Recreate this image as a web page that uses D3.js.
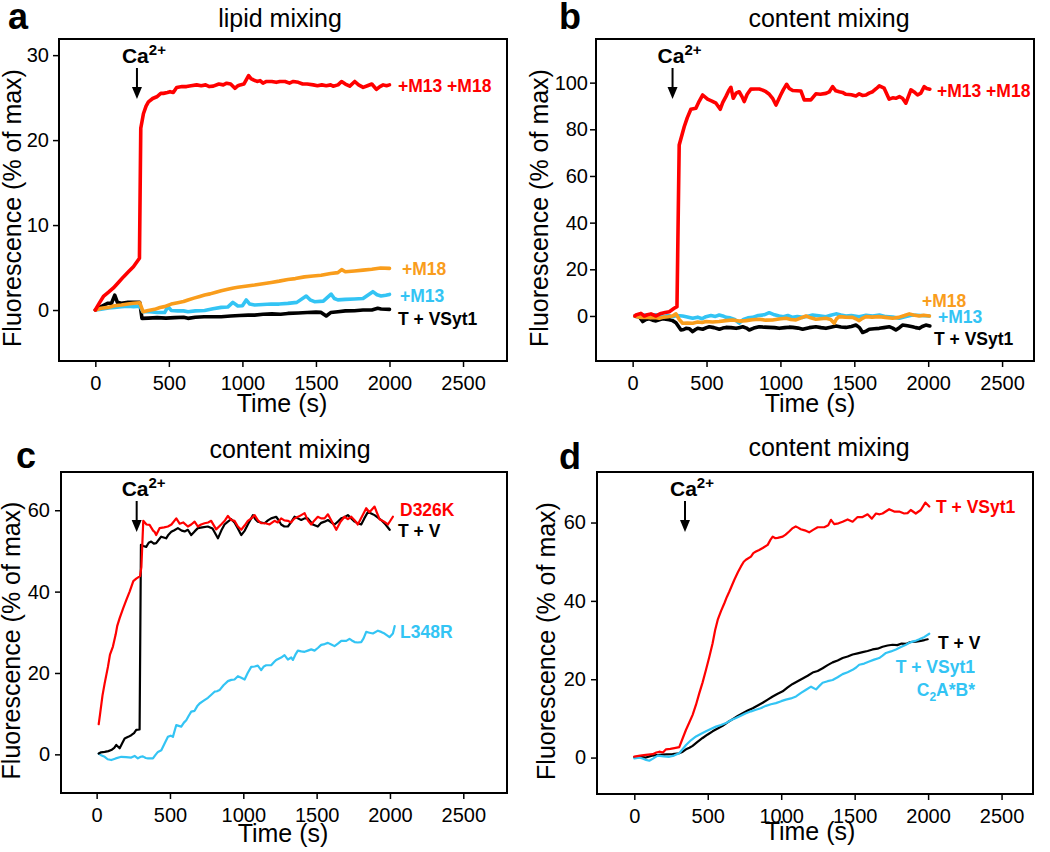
<!DOCTYPE html>
<html><head><meta charset="utf-8">
<script src="https://cdn.jsdelivr.net/npm/d3@7"></script>
<style>body{margin:0;background:#fff;} svg{display:block;font-family:'Liberation Sans',Arial,Helvetica,sans-serif;}</style>
</head><body><svg id="chart" width="1050" height="852"></svg>
<script>
// ---------- DATA ([time (s), fluorescence (% of max)]) ----------
const xTicks = [0, 500, 1000, 1500, 2000, 2500];
const yTicksA = [0, 10, 20, 30];
const yTicksB = [0, 20, 40, 60, 80, 100];
const yTicksC = [0, 20, 40, 60];
const yTicksD = [0, 20, 40, 60];
const panelLetters = ["a", "b", "c", "d"];
const panelTitles = ["lipid mixing", "content mixing", "content mixing", "content mixing"];
const caTimes = [283, 270, 273, 345];

// Panel a: lipid mixing
const aRed = [[0,0],[30,0.9],[55,1.6],[90,2.1],[123,2.6],[160,3.3],[191,3.9],[225,4.5],[259,5.1],[300,6.1],[309,21.4],[327,23.1],[345,24.0],[361,24.5],[390,24.9],[418,25.1],[445,25.5],[463,25.5],[490,25.6],[508,25.7],[530,25.6],[553,26.2],[590,26.3],[620,26.3],[650,26.4],[689,26.5],[720,26.4],[750,26.5],[775,26.3],[802,26.35],[840,26.6],[870,26.5],[893,26.7],[920,26.6],[949,26.1],[970,26.4],[985,26.5],[1010,26.6],[1042,27.6],[1060,27.2],[1074,27.1],[1100,26.9],[1120,27.0],[1140,26.7],[1164,26.9],[1200,26.9],[1230,26.8],[1255,26.9],[1290,26.9],[1320,26.7],[1346,26.9],[1380,26.8],[1410,26.6],[1440,26.6],[1482,26.5],[1510,26.4],[1540,26.5],[1570,26.4],[1600,26.5],[1617,26.35],[1650,26.5],[1674,26.9],[1700,26.6],[1730,26.35],[1764,26.9],[1790,26.5],[1821,26.2],[1850,26.4],[1880,26.6],[1911,25.96],[1935,26.3],[1957,26.5],[1980,26.4],[2000,26.5]];
const aOrange = [[0,0],[40,0.2],[86,0.31],[130,0.5],[177,0.59],[220,0.7],[260,0.8],[302,0.86],[324,-0.2],[360,-0.05],[403,0.08],[440,0.3],[470,0.4],[516,0.7],[560,0.85],[600,1.0],[630,1.18],[670,1.4],[710,1.6],[743,1.76],[780,1.9],[820,2.1],[856,2.27],[900,2.45],[940,2.6],[969,2.67],[1020,2.8],[1083,2.94],[1140,3.1],[1196,3.25],[1250,3.4],[1309,3.6],[1360,3.7],[1422,3.9],[1480,4.0],[1535,4.1],[1600,4.3],[1649,4.4],[1675,4.75],[1700,4.5],[1762,4.6],[1820,4.7],[1880,4.8],[1940,4.95],[2000,4.9]];
const aCyan = [[0,0],[40,0.1],[90,0.25],[130,0.3],[177,0.39],[220,0.45],[260,0.4],[302,0.45],[324,-0.2],[370,-0.2],[420,-0.3],[471,-0.3],[494,0.4],[516,-0.05],[560,-0.1],[600,-0.1],[630,-0.2],[680,-0.1],[743,-0.05],[800,0.15],[856,0.31],[900,0.35],[935,0.9],[969,0.47],[1000,0.5],[1026,1.18],[1050,0.7],[1083,0.6],[1140,0.65],[1196,0.7],[1250,0.7],[1309,0.78],[1370,0.9],[1434,1.65],[1460,1.2],[1490,0.98],[1550,1.05],[1603,1.88],[1625,1.35],[1649,1.2],[1700,1.25],[1762,1.3],[1820,1.35],[1887,2.16],[1915,1.8],[1943,1.65],[1975,1.75],[2000,1.84]];
const aBlack = [[0,0],[40,0.4],[86,0.8],[110,0.8],[132,1.76],[150,0.9],[177,0.8],[222,0.9],[260,0.9],[302,0.9],[317,-0.98],[360,-0.95],[420,-0.9],[480,-0.95],[540,-0.9],[600,-0.85],[630,-0.98],[680,-0.85],[740,-0.8],[800,-0.8],[856,-0.79],[920,-0.7],[980,-0.65],[1040,-0.6],[1083,-0.6],[1140,-0.5],[1200,-0.45],[1260,-0.5],[1309,-0.4],[1380,-0.35],[1440,-0.3],[1500,-0.25],[1535,-0.28],[1570,-0.7],[1600,-0.3],[1650,-0.2],[1700,-0.1],[1762,-0.08],[1820,0.0],[1880,0.0],[1920,0.2],[1943,0.12],[1975,0.1],[2000,0.08]];

// Panel b: content mixing
const bRed = [[16,0],[22,0.4],[56,1.1],[79,0],[100,0.5],[124,0.9],[158,0],[192,1.1],[220,1.5],[248,1.85],[281,3.3],[300,4.0],[315,73.3],[349,81.1],[370,85],[394,88.6],[428,89],[450,92],[474,94.7],[507,92.9],[540,92.0],[564,91.2],[593,88.6],[610,91.5],[631,94],[650,96.5],[665,98],[681,93.3],[700,95.5],[721,96.1],[740,94],[755,91.9],[775,95],[800,97.2],[830,97.3],[857,97.3],[880,96.8],[902,96.1],[925,95],[947,93.3],[970,90.4],[1000,94.5],[1020,97],[1042,99.3],[1060,97.5],[1083,96.6],[1110,96.5],[1139,96.4],[1161,92.6],[1185,92.6],[1206,92.6],[1240,95.2],[1270,95],[1308,95.4],[1330,96],[1353,98.3],[1375,96.5],[1398,96.1],[1420,95.8],[1443,95],[1480,94.8],[1511,94.3],[1533,95.2],[1555,94.5],[1579,94.7],[1600,95.5],[1624,96.1],[1650,97.5],[1669,98.6],[1702,97.6],[1736,92.9],[1760,93.5],[1781,93.3],[1805,94],[1826,93.3],[1849,91.2],[1883,96.9],[1905,96],[1928,94.7],[1950,95.5],[1973,98.3],[1990,97.5],[2011,97.2]];
const bBlack = [[16,0],[25,-0.2],[45,-0.3],[68,-2.4],[90,-1.5],[113,-1.2],[135,-1.8],[158,-2.1],[180,-1.6],[203,-1.2],[225,-1.4],[248,-1.6],[270,-2.0],[293,-2.9],[327,-6],[345,-5.8],[361,-5.3],[385,-5.5],[406,-6.7],[425,-5.8],[440,-5.3],[474,-5.7],[500,-5.0],[519,-4.6],[550,-5.0],[587,-5.7],[610,-5.2],[632,-4.9],[665,-5.0],[700,-5.3],[720,-5.0],[745,-4.6],[770,-5.2],[789,-6],[820,-5.2],[857,-4.6],[890,-4.8],[925,-4.9],[960,-5.0],[992,-5.3],[1030,-5.0],[1060,-4.8],[1083,-4.9],[1120,-5.2],[1150,-5.7],[1195,-5.0],[1240,-4.6],[1275,-5.0],[1308,-5.3],[1340,-4.8],[1376,-4.3],[1410,-4.7],[1443,-4.9],[1480,-4.5],[1511,-3.9],[1535,-5.0],[1556,-7.1],[1580,-6.5],[1601,-5.7],[1635,-5.5],[1669,-5.3],[1700,-5.0],[1736,-4.6],[1760,-5.2],[1781,-6],[1805,-5.0],[1826,-3.9],[1860,-4.2],[1894,-4.6],[1915,-5.0],[1939,-5.3],[1960,-4.5],[1984,-3.9],[2011,-4.3]];
const bCyan = [[16,0],[30,0.3],[60,0.4],[90,0.43],[120,-0.5],[150,0.5],[180,0.4],[210,-0.2],[240,0.2],[270,-0.3],[300,0.2],[338,0],[370,-0.4],[406,-1.0],[440,-0.5],[470,-1.2],[496,-0.3],[530,0.2],[560,-0.2],[586,0.4],[610,0.0],[632,-0.6],[660,-0.8],[690,-1.5],[721,-3.1],[750,-1.5],[780,-0.8],[811,-0.6],[850,0.2],[890,0.5],[924,1.4],[960,0.5],[992,0],[1020,-0.3],[1050,0.2],[1083,-0.6],[1115,-0.2],[1150,-0.6],[1185,-0.1],[1218,0.4],[1260,0.1],[1308,-0.3],[1340,0.3],[1376,0.9],[1410,0.4],[1443,0],[1480,0.2],[1533,-0.3],[1580,0.3],[1624,0],[1670,0.4],[1714,-0.3],[1760,-0.5],[1804,-1.0],[1850,-0.2],[1894,0.4],[1950,0.2],[2008,0]];
const bOrange = [[16,0],[30,-0.3],[60,-0.6],[90,-0.5],[120,-0.8],[150,-0.6],[180,-1.0],[210,-0.5],[240,-0.3],[270,0],[293,0.9],[315,-1.5],[338,-3.1],[370,-3.0],[406,-3.1],[440,-2.6],[470,-2.8],[496,-2.4],[540,-2.6],[586,-2.4],[630,-2.0],[677,-1.7],[720,-2.2],[767,-2.0],[810,-1.6],[857,-1.4],[900,-1.8],[947,-1.7],[990,-1.3],[1038,-1.0],[1070,-1.5],[1105,-1.7],[1140,-0.8],[1173,0],[1205,-0.8],[1240,-1.4],[1275,-1.2],[1308,-1.0],[1340,-1.5],[1364,-3.1],[1380,-1.2],[1398,-0.3],[1440,-0.5],[1489,-0.6],[1510,-1.2],[1533,-2.0],[1555,-1.0],[1579,-0.3],[1620,-0.5],[1669,-0.3],[1710,-0.6],[1759,-1.0],[1800,-0.6],[1840,0.2],[1872,0.9],[1900,0.4],[1939,0],[1970,0.3],[2008,0]];

// Panel c: content mixing
const cRed = [[14,7.4],[22,9.5],[40,14.5],[55,17.5],[77,21.5],[91,24.5],[111,26.5],[130,29.5],[140,31.5],[157,33.5],[180,35.8],[202,37.9],[225,40],[250,42.6],[270,43.2],[296,43.8],[305,46],[318,57.4],[340,56.5],[361,56.4],[385,55.0],[395,54.7],[406,53.9],[429,55.6],[460,55.8],[486,56],[510,56.5],[543,58],[566,56.7],[590,57],[622,56],[645,56.5],[668,57.2],[690,56],[712,56.5],[736,56.8],[760,57.0],[781,57.4],[815,55.3],[849,56.5],[875,57.5],[895,58.6],[918,57.6],[940,57.4],[963,56.0],[986,55.2],[1010,56.3],[1031,57.4],[1055,58],[1077,58.8],[1100,57.5],[1122,56.8],[1150,56.8],[1179,56.5],[1213,57.4],[1235,57.0],[1258,58],[1280,57.5],[1304,57.4],[1325,57.0],[1349,58],[1380,58.5],[1418,59.3],[1440,57.5],[1463,56.5],[1485,57.5],[1508,58.4],[1530,58.0],[1554,58],[1577,59],[1600,57.5],[1634,55.2],[1660,57.0],[1690,58.4],[1713,57.8],[1736,58.4],[1760,57.5],[1781,56.5],[1810,58.5],[1838,60.5],[1860,59.5],[1895,60.9],[1910,59.5],[1929,57.8],[1960,57.2],[1986,56.5],[2020,58.4]];
const cBlack = [[14,0.2],[30,0.5],[55,0.6],[80,0.8],[100,1.05],[120,1.6],[134,2.3],[157,1.5],[175,2.8],[191,3.9],[215,4.3],[236,4.7],[255,5.2],[270,6.0],[293,6.1],[302,51.5],[318,51.2],[338,51],[355,52.0],[372,52.3],[390,51.8],[406,51.9],[425,52.8],[440,53.5],[474,53.1],[490,54.0],[509,54.7],[530,55.1],[554,55.6],[580,55.0],[600,54.8],[622,55.2],[645,53.9],[668,54.8],[690,55.6],[720,55.8],[758,56],[790,55.5],[827,53.1],[850,55.0],[872,56.5],[895,57.2],[918,57.8],[940,57],[963,55.5],[986,53.9],[1010,55.0],[1031,56.5],[1066,58.8],[1082,57.8],[1099,57.2],[1122,57.0],[1145,56.8],[1168,57.5],[1190,58],[1224,58.4],[1240,57.6],[1258,56.5],[1280,56.0],[1304,56],[1325,57.0],[1349,58.4],[1372,58.0],[1395,57.6],[1418,58.0],[1440,58],[1474,56.5],[1508,56],[1531,56.9],[1554,57.2],[1577,57.6],[1600,57.0],[1622,56.5],[1645,57.2],[1668,58],[1690,58.3],[1713,58.8],[1736,58.0],[1759,57.2],[1781,56.8],[1804,56.5],[1825,58.0],[1850,59.6],[1872,59.2],[1895,58.8],[1918,58.2],[1940,57.6],[1970,56.5],[1998,55.2]];
const cCyan = [[14,0.2],[30,-0.2],[55,-0.6],[75,-1.2],[100,-1.4],[130,-1.0],[168,-0.6],[200,-0.7],[236,-0.8],[259,-0.4],[281,-1.0],[300,-0.6],[315,-0.5],[335,-0.9],[350,-1.0],[384,-1.0],[400,-0.2],[418,0.6],[441,1.0],[465,2.8],[486,4.3],[505,4.6],[520,4.3],[543,7.2],[560,7.0],[577,6.8],[595,7.8],[611,8.4],[628,9.5],[645,10.5],[668,10.7],[685,11.8],[702,12.5],[730,13.2],[759,13.9],[780,14.6],[804,15.4],[820,15.5],[838,15.8],[865,17.0],[895,18],[918,18.3],[940,18.4],[963,19.2],[986,18.8],[1009,18.4],[1030,20.0],[1054,21.5],[1077,21.6],[1099,21.8],[1122,20.7],[1140,21.6],[1156,21.9],[1190,21.9],[1210,22.7],[1224,23.2],[1258,23.8],[1281,24.4],[1304,23.3],[1327,23.8],[1338,23.2],[1355,24.5],[1372,25.5],[1395,25.3],[1418,25.2],[1440,25.5],[1463,25.8],[1486,25.5],[1510,26.2],[1531,26.9],[1555,27.1],[1577,27.4],[1600,27.0],[1622,26.6],[1645,27.2],[1668,27.9],[1702,27.9],[1724,28.4],[1740,28.0],[1759,27.6],[1780,27.5],[1804,27.6],[1820,28.5],[1838,30.1],[1860,29.9],[1884,29.7],[1918,30.4],[1940,30.1],[1963,29.7],[1997,28.8],[2020,29.7],[2032,31.5]];

// Panel d: content mixing
const dRed = [[0,0.26],[40,0.5],[79,0.7],[125,0.87],[150,1.3],[170,1.5],[195,1.3],[216,2.1],[245,2.2],[273,2.4],[306,2.65],[330,5.0],[352,7.1],[375,9.0],[397,10.9],[420,13.5],[442,16.4],[465,19.2],[488,22.4],[510,25.6],[533,29.2],[550,32.5],[568,35.2],[590,37.4],[613,39.4],[630,41.0],[647,42.4],[665,44.0],[681,45.4],[705,47.3],[726,48.8],[745,50.0],[760,50.5],[794,51.3],[810,52.2],[828,52.6],[850,53.0],[874,53.5],[908,54.3],[925,55.5],[942,56.4],[960,56.0],[976,56.1],[1010,56.4],[1030,56.9],[1054,57.7],[1075,58.5],[1099,59],[1115,58.7],[1133,58.3],[1160,58.0],[1190,57.5],[1220,58.2],[1248,58.8],[1270,58.8],[1293,58.8],[1320,59.3],[1339,60.7],[1361,59.6],[1390,59.8],[1418,60.2],[1452,60.8],[1486,60.2],[1520,61.4],[1554,61.4],[1588,62.1],[1617,61.0],[1645,62.3],[1670,62.1],[1690,62.3],[1735,63.4],[1769,62.8],[1803,62.8],[1837,62.3],[1860,62.4],[1882,63.2],[1916,62.3],[1950,63.2],[1981,65.1],[2008,64.1]];
const dBlack = [[0,0.1],[40,0.2],[79,0],[120,0.5],[170,0.7],[220,0.8],[260,0.9],[306,1.1],[330,1.5],[352,2.1],[375,2.5],[397,3],[430,4.0],[465,5],[500,5.9],[533,6.7],[567,7.4],[601,8.1],[635,9.0],[670,9.8],[704,10.6],[738,11.3],[772,12.0],[806,12.6],[840,13.3],[874,14],[908,14.8],[942,15.6],[976,16.3],[1010,16.9],[1044,17.9],[1078,18.8],[1112,19.5],[1146,20.2],[1180,20.9],[1214,21.7],[1248,22.1],[1282,22.8],[1316,23.6],[1350,24.3],[1384,24.8],[1418,25.4],[1452,25.8],[1486,26.3],[1520,26.6],[1554,26.9],[1588,27.2],[1622,27.6],[1656,27.8],[1690,28.3],[1724,28.6],[1758,28.8],[1790,28.7],[1820,29.1],[1849,29],[1880,29.5],[1918,29.6],[1950,29.8],[1975,30.0],[1997,30.2]];
const dCyan = [[0,-0.2],[34,0],[60,-0.3],[80,-0.6],[102,-0.8],[130,-0.2],[159,0.5],[200,0.3],[238,0.2],[270,0.5],[306,1.1],[330,2.2],[352,3.2],[385,4.4],[420,5.4],[455,6.1],[488,6.7],[520,7.3],[556,7.9],[590,8.3],[624,8.8],[660,9.6],[692,10.1],[725,10.7],[760,11.3],[795,11.8],[828,12.2],[860,12.6],[896,13.2],[930,13.6],[964,13.9],[1000,14.4],[1032,14.8],[1066,15.1],[1101,15.6],[1135,16.5],[1169,17.3],[1203,18.1],[1237,17.4],[1260,18.3],[1282,19.1],[1316,19.5],[1350,19.8],[1384,20.5],[1418,21.3],[1452,21.8],[1486,22.4],[1510,23.0],[1531,23.7],[1565,24.0],[1599,24.5],[1633,25.0],[1667,25.4],[1690,26.0],[1713,26.7],[1747,27.1],[1781,27.6],[1815,28.2],[1849,28.8],[1872,29.3],[1894,29.6],[1920,29.9],[1940,30.2],[1975,30.8],[2008,31.6]];

// ---------- STYLE ----------
const RED = "#ff0000", ORANGE = "#f99d1c", CYAN = "#33c4f4", BLACK = "#000000";
const FONT = "'Liberation Sans', Arial, Helvetica, sans-serif";

const panels = [
  { box:{l:59,r:507,t:39,b:361}, xDom:[-247,2799], yDom:[-6.0,31.9], yTicks:yTicksA, lw:3.6, yPad:4,
    series:[[aBlack,BLACK],[aCyan,CYAN],[aOrange,ORANGE],[aRed,RED]],
    labels:[{t:"+M13 +M18",c:RED,x:398,y:92},{t:"+M18",c:ORANGE,x:402,y:275},{t:"+M13",c:CYAN,x:400,y:302},{t:"T + VSyt1",c:BLACK,x:398,y:325}],
    letterPos:[8,29], titlePos:[280,27], caTop:68, caTip:99, xLabY:412, yLabX:21 },
  { box:{l:596,r:1034,t:39,b:361}, xDom:[-248,2716], yDom:[-19.3,118.7], yTicks:yTicksB, lw:3.6, yPad:2,
    series:[[bBlack,BLACK],[bCyan,CYAN],[bOrange,ORANGE],[bRed,RED]],
    labels:[{t:"+M13 +M18",c:RED,x:937,y:97},{t:"+M18",c:ORANGE,x:922,y:307},{t:"+M13",c:CYAN,x:938,y:323},{t:"T + VSyt1",c:BLACK,x:934,y:345}],
    letterPos:[559,29], titlePos:[829,27], caTop:68, caTip:99, xLabY:412, yLabX:548 },
  { box:{l:61,r:507,t:472,b:793}, xDom:[-243,2798], yDom:[-9.5,69.4], yTicks:yTicksC, lw:2.2, yPad:5,
    series:[[cCyan,CYAN],[cBlack,BLACK],[cRed,RED]],
    labels:[{t:"D326K",c:RED,x:400,y:516},{t:"T + V",c:BLACK,x:398,y:537},{t:"L348R",c:CYAN,x:400,y:638}],
    letterPos:[16,468], titlePos:[290,458], caTop:501, caTip:532, xLabY:842, yLabX:20 },
  { box:{l:597,r:1033,t:472,b:794}, xDom:[-254,2714], yDom:[-9.3,72.9], yTicks:yTicksD, lw:2.2, yPad:5,
    series:[[dBlack,BLACK],[dCyan,CYAN],[dRed,RED]],
    labels:[{t:"T + VSyt1",c:RED,x:936,y:513},{t:"T + V",c:BLACK,x:938,y:649},{t:"T + VSyt1",c:CYAN,x:975,y:673,anchor:"end"}],
    letterPos:[559,469], titlePos:[829,456], caTop:501, caTip:532, xLabY:840, yLabX:555 }
];

const svg = d3.select("#chart").style("font-family", FONT);

panels.forEach((p, i) => {
  const g = svg.append("g");
  const x = d3.scaleLinear().domain(p.xDom).range([p.box.l, p.box.r]);
  const y = d3.scaleLinear().domain(p.yDom).range([p.box.b, p.box.t]);

  // axes
  const xa = g.append("g").attr("transform", `translate(0,${p.box.b})`)
    .call(d3.axisBottom(x).tickValues(xTicks).tickSize(6).tickPadding(9).tickFormat(d3.format("d")));
  const ya = g.append("g").attr("transform", `translate(${p.box.l},0)`)
    .call(d3.axisLeft(y).tickValues(p.yTicks).tickSize(6).tickPadding(p.yPad).tickFormat(d3.format("d")));
  [xa, ya].forEach(a => {
    a.select(".domain").remove();
    a.selectAll("line").attr("stroke", "#000").attr("stroke-width", 1.5);
    a.selectAll("text").attr("fill", "#000").style("font-size", "20px").style("font-family", FONT);
  });

  // lines
  const line = d3.line().x(d => x(d[0])).y(d => y(d[1]));
  p.series.forEach(([data, color]) => {
    g.append("path").datum(data).attr("d", line)
      .attr("fill", "none").attr("stroke", color).attr("stroke-width", p.lw)
      .attr("stroke-linejoin", "round").attr("stroke-linecap", "round");
  });

  // frame
  g.append("rect").attr("x", p.box.l).attr("y", p.box.t)
    .attr("width", p.box.r - p.box.l).attr("height", p.box.b - p.box.t)
    .attr("fill", "none").attr("stroke", "#000").attr("stroke-width", 2);

  // series labels
  p.labels.forEach(l => {
    g.append("text").attr("x", l.x).attr("y", l.y).attr("fill", l.c)
      .attr("text-anchor", l.anchor || "start")
      .style("font-size", "17.5px").style("font-weight", "bold").text(l.t);
  });
  if (i === 3) {
    const t = g.append("text").attr("x", 975).attr("y", 696).attr("fill", CYAN)
      .attr("text-anchor", "end").style("font-size", "17.5px").style("font-weight", "bold");
    t.append("tspan").text("C");
    t.append("tspan").attr("dy", 5).style("font-size", "12px").text("2");
    t.append("tspan").attr("dy", -5).text("A*B*");
  }

  // Ca2+ arrow
  const ax = x(caTimes[i]);
  g.append("line").attr("x1", ax).attr("x2", ax).attr("y1", p.caTop).attr("y2", p.caTip - 10)
    .attr("stroke", "#000").attr("stroke-width", 2);
  g.append("path").attr("d", `M${ax-5},${p.caTip-12} L${ax+5},${p.caTip-12} L${ax},${p.caTip} Z`).attr("fill", "#000");
  const ca = g.append("text").attr("x", ax - 15).attr("y", p.caTop - 5)
    .style("font-weight", "bold").style("font-size", "21px").attr("fill", "#000");
  ca.append("tspan").text("Ca");
  ca.append("tspan").attr("dy", -8).style("font-size", "15px").text("2+");

  // titles and letters
  g.append("text").attr("x", p.titlePos[0]).attr("y", p.titlePos[1]).attr("text-anchor", "middle")
    .style("font-size", "25px").text(panelTitles[i]);
  g.append("text").attr("x", p.letterPos[0]).attr("y", p.letterPos[1])
    .style("font-size", "36px").style("font-weight", "bold").text(panelLetters[i]);

  // axis titles
  g.append("text").attr("x", (p.box.l + p.box.r) / 2 + (i % 2 === 0 ? -1 : -5)).attr("y", p.xLabY)
    .attr("text-anchor", "middle").style("font-size", "25px").text("Time (s)");
  g.append("text").attr("transform", `translate(${p.yLabX},${(p.box.t + p.box.b) / 2 + 8}) rotate(-90)`)
    .attr("text-anchor", "middle").style("font-size", "25px").text("Fluorescence (% of max)");
});
</script>
</body></html>
